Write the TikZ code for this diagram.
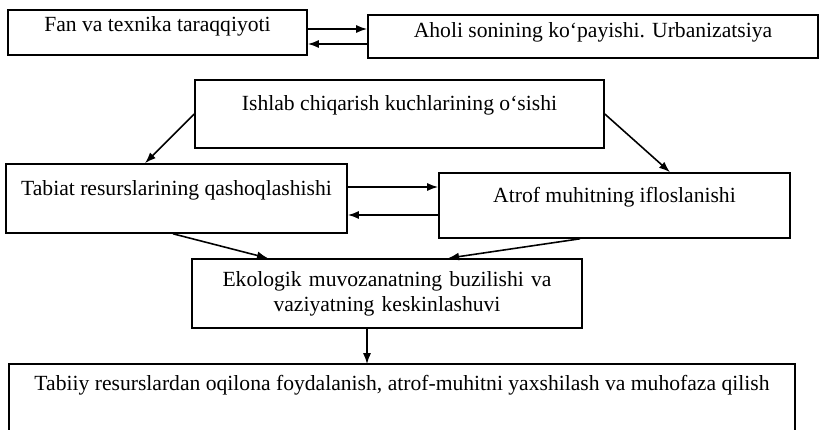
\documentclass[tikz,border=0pt]{standalone}
\usepackage{fontspec}
\setmainfont{Liberation Serif}
\usepackage{tikz}
\usetikzlibrary{arrows.meta, positioning}

\begin{document}
\begin{tikzpicture}[
  box/.style={draw, line width=0.9pt, inner sep=0pt, font=\fontsize{12.3}{14.3}\selectfont},
  arr/.style={-{Latex[length=2.2mm, width=1.6mm]}, line width=0.9pt}
]
  \useasboundingbox (0,0) rectangle (16.44,-8.6);
  \node[box, minimum width=5.98cm, text height=0.42cm, text depth=0.48cm] (b1) at (3.15,-0.65) {Fan va texnika taraqqiyoti};
  \node[box, minimum width=9.0cm, text height=0.44cm, text depth=0.42cm] (b2) at (11.86,-0.73) {Aholi sonining ko`payishi. Urbanizatsiya};
  \node[box, minimum width=8.18cm, text height=0.6cm, text depth=0.76cm] (b3) at (7.99,-2.28) {Ishlab chiqarish kuchlarining o`sishi};
  \node[box, minimum width=6.82cm, text height=0.62cm, text depth=0.76cm] (b4) at (3.53,-3.97) {Tabiat resurslarining qashoqlashishi};
  \node[box, minimum width=7.02cm, text height=0.58cm, text depth=0.72cm] (b5) at (12.29,-4.11) {Atrof muhitning ifloslanishi};
  \node[box, minimum width=7.8cm, minimum height=1.38cm, text width=7.6cm, align=center] (b6) at (7.74,-5.87) {Ekologik muvozanatning buzilishi va\\ vaziyatning keskinlashuvi};
  \node[box, draw=none, minimum width=15.68cm, text height=0.5cm, text depth=0.8cm] (b7) at (8.04,-7.95) {Tabiiy resurslardan oqilona foydalanish, atrof-muhitni yaxshilash va muhofaza qilish};
  \draw[line width=0.9pt] (b7.south west) |- (b7.north east) -- (b7.south east);
  % arrows
  \draw[arr] ([yshift=0.07cm]b1.east) -- ([yshift=0.07cm]b1.east -| b2.west);
  \draw[arr] ([yshift=-0.23cm]b1.east -| b2.west) -- ([yshift=-0.23cm]b1.east);
  \draw[arr] (b3.west) -- ([xshift=-0.63cm]b4.north);
  \draw[arr] (b3.east) -- ([xshift=1.11cm]b5.north);
  \draw[arr] ([yshift=0.23cm]b4.east) -- ([yshift=0.23cm]b4.east -| b5.west);
  \draw[arr] ([yshift=-0.33cm]b4.east -| b5.west) -- ([yshift=-0.33cm]b4.east);
  \draw[arr] ([xshift=-0.07cm]b4.south) -- ([xshift=-2.38cm]b6.north);
  \draw[arr] ([xshift=-0.69cm]b5.south) -- ([xshift=1.22cm]b6.north);
  \draw[arr] ([xshift=-0.4cm]b6.south) -- ([xshift=-0.4cm]b6.south |- b7.north);
\end{tikzpicture}
\end{document}
